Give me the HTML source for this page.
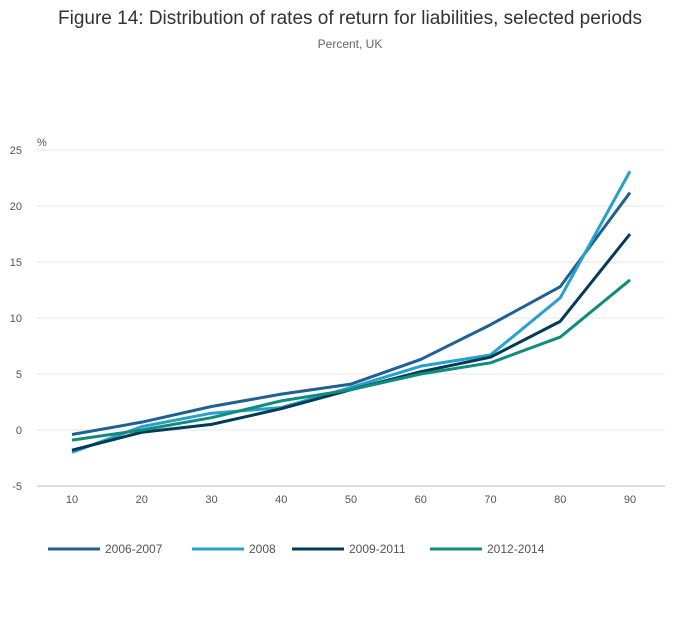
<!DOCTYPE html>
<html><head><meta charset="utf-8"><style>
body{margin:0;background:#fff;font-family:"Liberation Sans",sans-serif;}
svg text{font-family:"Liberation Sans",sans-serif;}
</style></head><body>
<svg width="700" height="635">
<text x="350" y="24" text-anchor="middle" font-size="19" fill="#333">Figure 14: Distribution of rates of return for liabilities, selected periods</text>
<text x="350" y="48" text-anchor="middle" font-size="12" fill="#666">Percent, UK</text>
<text x="37" y="146" font-size="11" fill="#555">%</text>
<g id="grid"></g><g id="lines"></g><g id="legend"></g>
</svg>
<script>
const categories=[10,20,30,40,50,60,70,80,90];
const yTicks=[-5,0,5,10,15,20,25];
const seriesNames=["2006-2007","2008","2009-2011","2012-2014"];
const seriesColors=["#206095","#27a0cc","#003c57","#118c7b"];
const s2006=[-0.4,0.7,2.1,3.2,4.1,6.3,9.4,12.8,21.2];
const s2008=[-2.0,0.3,1.5,2.0,3.8,5.7,6.7,11.8,23.1];
const s2009=[-1.8,-0.2,0.5,1.9,3.6,5.2,6.5,9.7,17.5];
const s2012=[-0.9,0.0,1.1,2.6,3.6,5.0,6.0,8.3,13.4];
const allSeries=[s2006,s2008,s2009,s2012];
const NS="http://www.w3.org/2000/svg";
const xS=v=>72+(v-10)*(630-72)/80;
const yS=v=>430-v*11.2;
function mk(t,a,p){const e=document.createElementNS(NS,t);for(const k in a)e.setAttribute(k,a[k]);p.appendChild(e);return e;}
const g=document.getElementById('grid');
yTicks.forEach(t=>{
 const l=mk('line',{x1:37,x2:665,y1:yS(t),y2:yS(t),stroke:t===-5?'#bbb':'#e6e6e6','stroke-width':1},g);
 
 
 const tx=mk('text',{x:22,y:yS(t)+4,'font-size':11,fill:'#555','text-anchor':'end'},g);tx.textContent=t;
 
 
});
categories.forEach(c=>{
 const tx=mk('text',{x:xS(c),y:503,'font-size':11,fill:'#555','text-anchor':'middle'},g);tx.textContent=c;
 
 
});
const lg=document.getElementById('lines');
allSeries.forEach((s,i)=>{
 const p=mk('polyline',{points:s.map((v,j)=>xS(categories[j])+','+yS(v)).join(' '),fill:'none',stroke:seriesColors[i],'stroke-width':3,'stroke-linejoin':'round'},lg);
 
 
});
const lgd=document.getElementById('legend');
const lx=[48,192,292,430];
seriesNames.forEach((n,i)=>{
 const l=mk('line',{x1:lx[i],x2:lx[i]+52,y1:549,y2:549,stroke:seriesColors[i],'stroke-width':3},lgd);
 
 
 const t=mk('text',{x:lx[i]+57,y:553,'font-size':12,fill:'#555'},lgd);t.textContent=n;
 
 
});
</script>
</body></html>
